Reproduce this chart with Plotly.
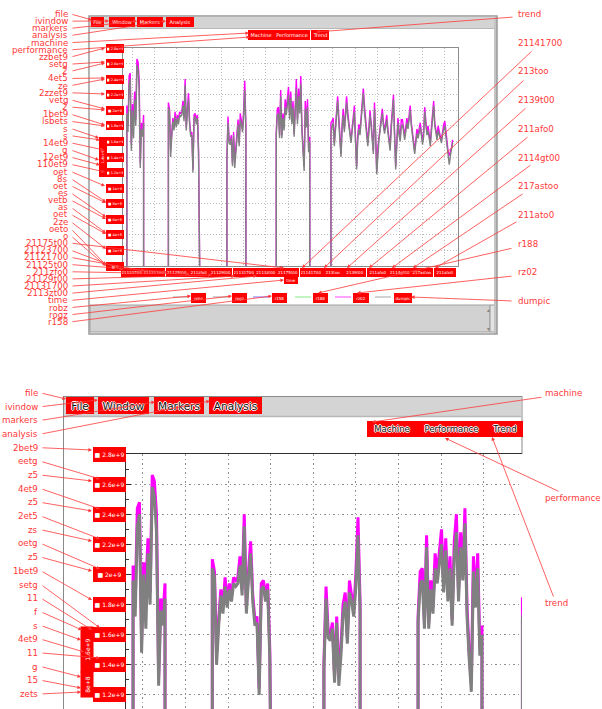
import plotly.graph_objects as go

W, H = 602, 709
FONT = "DejaVu Sans"
RED = "#ff0000"
INK = "#ff3838"
STEP = 0.05

# ---- machine performance samples, one list per run (time in tick units) ----
run_starts = [-0.23, 1.63, 4.25, 6.46, 8.91]
run_closed = [True, True, True, True, False]

avg_runs = [
    [9.8, 8.6, 11.6, 12.0, 7.4, 10.0, 8.2, 10.7, 9.0, 12.9, 12.6, 11.4, 6.3, 8.8, 8.3, 9.2],
    [10.2, 9.9, 7.0, 8.3, 9.3, 8.7, 9.6, 8.9, 9.5, 9.1, 9.7, 9.6, 9.7, 10.3, 9.3, 11.6,
     8.7, 9.9, 10.7, 9.1, 8.3, 8.4, 6.0, 9.5, 9.6, 9.1, 9.5, 7.2, 0.8],
    [6.8, 9.2, 7.9, 7.8, 8.2, 6.4, 8.4, 6.3, 7.3, 8.7, 9.1, 7.7, 9.4, 9.1, 8.6, 9.6, 11.3, 8.7],
    [8.4, 9.7, 9.8, 8.2, 10.9, 8.2, 9.5, 8.7, 10.2, 9.7, 10.4, 11.0, 9.4, 10.8, 9.1, 10.2,
     8.3, 10.6, 11.4, 9.1, 10.9, 9.8, 11.7, 8.6, 7.2, 6.1, 10.1, 8.9, 10.2, 7.3, 8.0],
    [8.5, 9.0, 9.2, 7.7, 8.6, 9.6, 10.6, 9.3, 8.1, 7.0, 8.8, 9.7, 8.6, 9.4, 10.5, 9.6,
     8.9, 8.4, 7.9, 8.7, 9.3, 9.9, 8.0, 6.2, 8.1, 8.8, 8.4, 9.4, 10.2, 11.1, 9.9, 9.2,
     8.3, 7.7, 8.6, 9.7, 9.0, 8.2, 7.2, 10.1, 8.6, 5.9, 7.4, 8.1, 8.7, 9.3, 9.8, 9.0,
     8.5, 8.9, 9.4, 8.6, 7.9, 7.4, 8.8, 9.9, 10.7, 8.3, 6.2, 7.8, 9.2, 8.4, 8.0, 8.9,
     9.1, 8.7, 8.1, 8.6, 9.2, 8.8, 9.5, 10.0, 9.0, 8.3, 7.6, 7.2, 7.9, 8.5, 8.2, 8.7,
     8.9, 8.4, 7.8, 8.3, 9.9, 9.1, 8.4, 8.7, 8.2, 7.7, 8.6, 9.4, 10.3, 9.0, 8.5, 8.1,
     8.7, 8.4, 8.1, 7.9, 8.5, 8.8, 9.0, 8.3, 7.7, 7.0, 6.5, 7.1, 7.45, 7.9],
]

peak_runs = [
    [10.3, 9.0, 12.2, 12.4, 7.8, 10.4, 9.6, 11.2, 9.4, 13.3, 13.1, 12.0, 6.6, 9.2, 8.6, 9.7],
    [10.5, 10.1, 7.4, 8.5, 9.5, 8.9, 9.9, 9.1, 9.7, 9.3, 9.9, 9.8, 9.9, 10.6, 9.5, 12.0,
     8.9, 10.1, 11.1, 9.3, 8.5, 8.6, 6.2, 9.7, 9.8, 9.3, 9.7, 7.5, 1.0],
    [7.0, 9.6, 8.1, 8.0, 8.4, 6.6, 8.6, 6.7, 7.6, 9.0, 9.4, 7.9, 9.8, 9.3, 8.8, 10.0, 11.9, 9.0],
    [8.6, 10.1, 10.2, 8.4, 11.3, 8.4, 9.8, 8.9, 10.7, 10.0, 10.8, 11.5, 9.7, 11.2, 9.3, 10.6,
     8.5, 11.1, 12.0, 9.4, 11.4, 10.1, 12.2, 8.9, 7.4, 6.4, 10.6, 9.1, 10.7, 7.6, 8.3],
    [9.2, 9.3, 9.5, 7.9, 8.9, 9.9, 10.9, 9.6, 8.3, 7.2, 9.1, 10.1, 8.8, 9.8, 10.9, 9.9,
     9.1, 8.6, 8.1, 9.0, 9.6, 10.3, 8.2, 6.4, 8.4, 9.1, 8.6, 9.7, 10.5, 11.4, 10.3, 9.5,
     8.5, 7.9, 8.9, 10.0, 9.2, 8.4, 7.4, 10.5, 8.8, 6.1, 7.6, 8.3, 9.0, 9.6, 10.1, 9.2,
     8.7, 9.2, 9.7, 8.8, 8.1, 7.6, 9.1, 10.3, 11.0, 8.5, 6.4, 8.0, 9.5, 8.7, 8.2, 9.4,
     9.4, 8.9, 8.3, 8.9, 9.5, 9.0, 9.8, 10.3, 9.2, 8.5, 7.8, 7.4, 8.1, 8.8, 8.4, 9.0,
     9.2, 8.6, 8.0, 8.6, 10.2, 9.3, 8.6, 9.0, 8.4, 7.9, 8.9, 9.7, 10.6, 9.2, 8.7, 8.3,
     9.0, 8.6, 8.3, 8.1, 8.8, 9.1, 9.3, 8.5, 7.9, 7.3, 7.1, 7.3, 7.6, 8.1],
]

# ---- axis tick labels ----
x_tick_vals = list(range(15))
x_tick_text = ["21123700", "21121700", "21125t00", "211zfo0", "21129t00", "21131700",
               "2113zt00", "21175t00", "21141700", "213too", "2139t00", "211afo0",
               "2114gt00", "217astoo", "211ato0"]
y_tick_vals = list(range(15))
y_tick_text = ["0", "2e+8", "4e+8", "6e+8", "8e+8", "1e+9", "1.2e+9", "1.4e+9",
               "1.6e+9", "1.8e+9", "2e+9", "2.2e+9", "2.4e+9", "2.6e+9", "2.8e+9"]
legend_names = ["robz", "rogz", "r158", "r188", "rz02", "dumpic"]
legend_colors = ["#b4b4b4", "#b4b4b4", "#8c8cff", "#99ee99", "#ff66ff", "#b4b4b4"]
menu_items = ["File", "Window", "Markers", "Analysis"]
title_words = ["Machine", "Performance", "Trend"]

# ---- callout labels ----
left_top = ["file", "ivindow", "markers", "analysis", "machine", "performance", "zzbet9",
            "setg", "2", "4et5", "ze", "2zzet9", "vetg", "2", "1bet9", "lsbets", "s", "s",
            "14et9", "g", "12et9", "110et9", "oet", "8s", "oet", "es", "vetb", "as", "oet",
            "2ze", "oeto", "o", "21175t00", "21123700", "21121700", "21125t00", "211zfo0",
            "21129t00", "21131700", "2113zt00", "time", "robz", "rogz", "r158"]
left_top_to = [(92, 20), (109, 21), (137, 21), (166, 21), (249, 33), (250, 37), (105, 48),
               (105, 62), (105, 63), (105, 78), (105, 79), (105, 94), (105, 109), (105, 110),
               (105, 125), (105, 126), (99, 138), (100, 140), (104, 150), (99, 160),
               (100, 165), (105, 172), (105, 186), (106, 202), (106, 203), (106, 217),
               (106, 219), (106, 233), (106, 234), (106, 249), (106, 265), (106, 266),
               (284, 268), (123, 270), (145, 271), (167, 272), (190, 274), (212, 275),
               (235, 276), (257, 276), (284, 280), (191, 296), (232, 296), (272, 296)]
right_top = ["trend", "21141700", "213too", "2139t00", "211afo0", "2114gt00", "217astoo",
             "211ato0", "r188", "rz02", "dumpic"]
right_top_from = [(514, 17), (533, 50), (525, 79), (527, 107), (529, 136), (532, 164),
                  (524, 193), (518, 221), (513, 248), (513, 276), (513, 301)]
right_top_to = [(316, 32), (302, 268), (324, 268), (347, 268), (369, 268), (392, 268),
                (413, 268), (435, 268), (318, 293), (357, 293), (411, 297)]
left_bot = ["file", "ivindow", "markers", "analysis", "2bet9", "eetg", "z5", "4et9", "z5",
            "2et5", "zs", "oetg", "z5", "1bet9", "setg", "11", "f", "s", "4et9", "11", "g",
            "15", "zets"]
left_bot_to = [(66, 399), (98, 400), (155, 402), (210, 401), (92, 450), (100, 479),
               (92, 481), (100, 509), (92, 511), (100, 539), (92, 541), (100, 569),
               (92, 571), (92, 600), (100, 628), (92, 630), (82, 630), (81, 640), (84, 652),
               (100, 658), (81, 677), (81, 688), (81, 692)]
right_bot = ["machine", "performance", "trend"]
right_bot_y = [393, 498, 603]
right_bot_from = [(543, 397), (560, 492), (554, 598)]
right_bot_to = [(372, 422), (445, 438), (492, 437)]

LABEL_SIZE = 8.7


def px(x):
    return x / W


def py(y):
    return 1 - y / H


def run_xy(start, values, closed):
    xs = [start] + [start + i * STEP for i in range(len(values))]
    ys = [0.0] + list(values)
    if closed:
        xs.append(xs[-1])
        ys.append(0.0)
    return xs + [None], ys + [None]


fig = go.Figure()

px_avg, py_avg, px_pk, py_pk = [], [], [], []
for s, a, p, c in zip(run_starts, avg_runs, peak_runs, run_closed):
    xs, ys = run_xy(s, a, c)
    px_avg += xs
    py_avg += ys
    xs, ys = run_xy(s, p, c)
    px_pk += xs
    py_pk += ys

for xa, ya, lw in [("x", "y", 1.4), ("x2", "y2", 3.0)]:
    fig.add_trace(go.Scatter(x=px_pk, y=py_pk, xaxis=xa, yaxis=ya, mode="lines",
                             line=dict(color="#ff00ff", width=lw), hoverinfo="skip"))
    fig.add_trace(go.Scatter(x=px_avg, y=py_avg, xaxis=xa, yaxis=ya, mode="lines",
                             line=dict(color="#808080", width=lw), hoverinfo="skip"))

shapes = []


def rect(x0, y0, x1, y1, fill=None, line=None, lw=1):
    shapes.append(dict(type="rect", xref="paper", yref="paper", x0=px(x0), x1=px(x1),
                       y0=py(y0), y1=py(y1), fillcolor=fill or "rgba(0,0,0,0)",
                       line=dict(color=line or "rgba(0,0,0,0)", width=lw if line else 0),
                       layer="below"))


def hline(x0, x1, y, color, lw=1):
    shapes.append(dict(type="line", xref="paper", yref="paper", x0=px(x0), x1=px(x1),
                       y0=py(y), y1=py(y), line=dict(color=color, width=lw), layer="below"))


def vline(x, y0, y1, color, lw=1):
    shapes.append(dict(type="line", xref="paper", yref="paper", x0=px(x), x1=px(x),
                       y0=py(y0), y1=py(y1), line=dict(color=color, width=lw), layer="below"))


# upper window frame
rect(90, 17, 495, 28, fill="#d4d4d4")
hline(90, 495, 28.5, "#b8b8b8", 1)
rect(90, 305, 490, 332, fill="#d2d2d2", line="#a0a0a0", lw=1)
rect(490, 305, 495, 332, fill="#e2e2e2", line="#9a9a9a", lw=1)
rect(494, 17, 497, 334, fill="#c4c4c4")
rect(89, 16, 497, 334, line="#9a9a9a", lw=1.5)

# lower window frame
rect(64, 397, 521, 416, fill="#d4d4d4")
hline(64, 521, 416.5, "#b8b8b8", 1.5)
hline(63, 522, 396.5, "#8a8a8a", 1)
vline(63.5, 396, 709, "#8a8a8a", 1)
vline(522, 396, 454, "#8a8a8a", 1)

# legend line samples under the upper chart
for x0, col in zip([173, 213, 253, 295, 335, 375], legend_colors):
    hline(x0, x0 + 16, 297, col, 1.2)

annotations = []


def box(x, y, w, h, text, size, xref="paper", yref="paper", color="white", angle=0,
        shadow=None):
    font = dict(size=size, color=color, family=FONT)
    if shadow:
        font["shadow"] = shadow
    annotations.append(dict(x=x, y=y, xref=xref, yref=yref, text=text, showarrow=False,
                            width=w, height=h, bgcolor=RED, bordercolor=RED, borderwidth=1,
                            borderpad=0, font=font, xanchor="center", yanchor="middle",
                            textangle=angle))


def label(x, y, text, anchor):
    annotations.append(dict(x=px(x), y=py(y), xref="paper", yref="paper", text=text,
                            showarrow=False, xanchor=anchor, yanchor="middle",
                            font=dict(size=LABEL_SIZE, color=INK, family=FONT)))


def arrow(frm, to):
    annotations.append(dict(x=px(to[0]), y=py(to[1]), xref="paper", yref="paper", text="",
                            showarrow=True, axref="pixel", ayref="pixel",
                            ax=frm[0] - to[0], ay=frm[1] - to[1], arrowhead=2,
                            arrowsize=0.9, arrowwidth=0.8, arrowcolor=INK))


WHITE_HALO = "-1px 0 #fff, 1px 0 #fff, 0 1px #fff, 0 -1px #fff"

# upper window: menu, title and tick boxes
for name, (x0, x1) in zip(menu_items, [(92, 103), (110, 134), (138, 162), (167, 193)]):
    box(px((x0 + x1) / 2), py(22), x1 - x0, 8, name, 5)
for name, (x0, x1) in zip(title_words, [(249, 273), (275, 309), (312, 328)]):
    box(px((x0 + x1) / 2), py(35), x1 - x0, 8, name, 5)
for v, t in zip(x_tick_vals, x_tick_text):
    box(v, py(272.5), 20, 7, t, 4, xref="x")
for v, t in zip(y_tick_vals, y_tick_text):
    box(px(114.5), v, 16, 7, "\u25a0 " + t, 3.5, yref="y")
box(px(103), py(157), 38, 6, "1.4e+9", 3.5, angle=-90)
box(px(291), py(280.5), 12, 6, "time", 4)
for name, x0, w in zip(legend_names, [192, 233, 273, 314, 354, 395], [13, 13, 13, 13, 14, 16]):
    box(px(x0 + w / 2), py(297.5), w, 8, name, 4)
annotations.append(dict(x=px(492), y=py(309), xref="paper", yref="paper", text="\u25b4",
                        showarrow=False, font=dict(size=6, color="#888", family=FONT)))
annotations.append(dict(x=px(492), y=py(329), xref="paper", yref="paper", text="\u25be",
                        showarrow=False, font=dict(size=6, color="#888", family=FONT)))

# lower window: menu, title and tick boxes
for name, (x0, x1) in zip(menu_items, [(67, 93), (99, 148), (155, 203), (210, 261)]):
    box(px((x0 + x1) / 2), py(405), x1 - x0, 15, name, 10.5, color="#111",
        shadow=WHITE_HALO)
for name, (x0, x1) in zip(title_words, [(368, 416), (417, 486), (487, 522)]):
    box(px((x0 + x1) / 2), py(429.5), x1 - x0, 14, name, 8.5, color="#111",
        shadow=WHITE_HALO)
for v, t in zip(y_tick_vals, y_tick_text):
    if v >= 6:
        box(px(109.5), v, 31, 13, "\u25a0 " + t, 6, yref="y2")
box(px(86.5), py(650), 44, 11, "1.6e+9", 6, angle=-90)
box(px(86.5), py(685), 24, 11, "8e+8", 6, angle=-90)

# callouts
for i, (name, to) in enumerate(zip(left_top, left_top_to)):
    y = 14 + 7.16 * i
    label(70, y, name, "right")
    arrow((71, y), to)
for j, (name, frm, to) in enumerate(zip(right_top, right_top_from, right_top_to)):
    label(516, 14 + 28.7 * j, name, "left")
    arrow(frm, to)
for i, (name, to) in enumerate(zip(left_bot, left_bot_to)):
    y = 393 + 13.68 * i
    label(40, y, name, "right")
    arrow((41, y), to)
for name, y, frm, to in zip(right_bot, right_bot_y, right_bot_from, right_bot_to):
    label(543, y, name, "left")
    arrow(frm, to)

grid_top = dict(showgrid=True, gridcolor="#bdbdbd", griddash="1px,2px", gridwidth=1,
                zeroline=False, showticklabels=False, showline=True, linecolor="#8c8c8c",
                linewidth=1, mirror=True)
grid_bot = dict(showgrid=True, gridcolor="#8f8f8f", griddash="1.5px,3px", gridwidth=1.2,
                zeroline=False, showticklabels=False, showline=True, linecolor="#303030",
                linewidth=1)

fig.update_layout(
    width=W, height=H, margin=dict(l=0, r=0, t=0, b=0),
    paper_bgcolor="white", plot_bgcolor="white", showlegend=False,
    xaxis=dict(domain=[px(123), px(458)], range=[-0.403, 14.6], tickvals=x_tick_vals,
               ticks="", anchor="y", **grid_top),
    yaxis=dict(domain=[py(266), py(48)], range=[0, 14], tickvals=y_tick_vals,
               ticks="outside", ticklen=2, tickcolor="#8c8c8c", anchor="x", **grid_top),
    xaxis2=dict(domain=[px(126), px(522)], range=[-0.396, 8.9], tickvals=x_tick_vals,
                ticks="", side="top", anchor="y2", **grid_bot),
    yaxis2=dict(domain=[0, py(454)], range=[5.53, 14], tickvals=y_tick_vals, ticks="inside",
                ticklen=5, tickcolor="#303030", anchor="x2",
                minor=dict(dtick=0.5, ticks="inside", ticklen=3, tickcolor="#303030",
                           showgrid=False), **grid_bot),
    shapes=shapes, annotations=annotations,
)

fig.write_html("out.html")
